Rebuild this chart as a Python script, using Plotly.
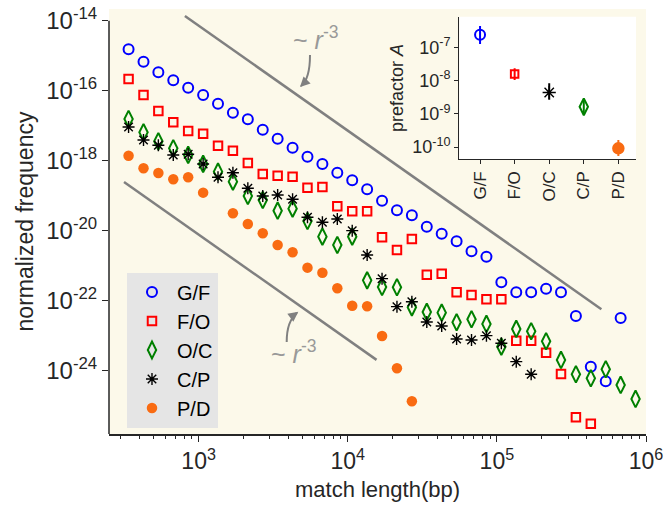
import numpy as np
import plotly.graph_objects as go

# ---------------- data ----------------
length_bins = [339, 427, 537, 676, 851, 1072, 1349, 1698, 2138, 2692, 3388, 4266,
               5370, 6761, 8511, 10715, 13490, 16982, 21380, 26915, 33884, 42658,
               53703, 67608, 85114, 107152, 134896, 169824, 213796, 269153, 338844,
               426580, 537032, 676083, 851138]

gf_log10 = [-14.817, -15.171, -15.474, -15.703, -15.914, -16.123, -16.371, -16.629, -16.817,
            -17.114, -17.371, -17.629, -17.886, -18.094, -18.343, -18.560, -18.817, -19.143,
            -19.417, -19.560, -19.886, -20.086, -20.303, -20.589, -20.743, -21.474, -21.760,
            -21.760, -21.657, -21.760, -22.437, -23.886, -24.303, -22.494]
fo_log10 = [-15.666, -16.123, -16.580, -16.903, -17.151, -17.229, -17.571, -17.714, -18.066,
            -18.380, -18.429, -18.457, -18.771, -18.751, -19.303, -19.446, -19.446, -20.189,
            -20.551, -20.237, -21.257, -21.229, -21.760, -21.837, -21.960, -21.960, -23.143,
            -23.143, -23.486, -24.094, -25.331, -25.514]
oc_log10 = [-16.809, -17.189, -17.446, -17.646, -17.837, -18.094, -18.314, -18.600, -19.009,
            -19.123, -19.429, -19.371, -19.723, -20.171, -20.409, -20.171, -21.420, -21.609,
            -21.617, -22.189, -22.323, -22.343, -22.617, -22.531, -22.666, -23.314, -22.809,
            -22.874, -23.160, -23.694, -24.103, -24.217, -23.960, -24.409, -24.809]
cp_log10 = [-17.037, -17.409, -17.560, -17.837, -17.817, -18.094, -18.474, -18.343, -18.789,
            -19.009, -18.980, -19.103, -19.617, -19.760, -19.666, -20.000, -20.694, -21.371,
            -22.171, -22.029, -22.609, -22.723, -23.094, -23.123, -23.000, -23.217, -23.743,
            -24.103]
pd_log10 = [-17.857, -18.217, -18.351, -18.531, -18.474, -18.914, None, -19.503, -19.809,
            -20.074, -20.409, -20.617, -21.057, -21.200, -21.646, -22.143, -22.160, -23.009,
            -23.931, -24.874]

# ~ r^-3 guide lines: log10 prefactor and x extent
guide_log10A = [-5.142, -11.112]
guide_x = [[809, 502000], [316, 15600]]

# inset
pairs = ["G/F", "F/O", "O/C", "C/P", "P/D"]
prefactor_log10 = [-6.62, -7.80, -8.36, -8.79, -10.04]
prefactor_hi_log10 = [-6.36, -7.63, -8.08, -8.59, -9.79]
prefactor_lo_log10 = [-6.90, -7.98, -8.58, -8.99, -10.27]

x_ticks = [1e3, 1e4, 1e5, 1e6]
x_ticktext = ["10<sup>3</sup>", "10<sup>4</sup>", "10<sup>5</sup>", "10<sup>6</sup>"]
y_ticks = [1e-14, 1e-16, 1e-18, 1e-20, 1e-22, 1e-24]
y_ticktext = ["10<sup>-14</sup>", "10<sup>-16</sup>", "10<sup>-18</sup>", "10<sup>-20</sup>",
              "10<sup>-22</sup>", "10<sup>-24</sup>"]
in_y_ticks = [1e-7, 1e-8, 1e-9, 1e-10]
in_y_ticktext = ["10<sup>-7</sup>", "10<sup>-8</sup>", "10<sup>-9</sup>", "10<sup>-10</sup>"]

# ---------------- style ----------------
W, H = 665, 509
ML, MR, MT, MB = 109, 19, 9, 75
XR = [2.399, 6.0]
YR = [-25.81, -13.666]
FONT = "Liberation Sans, Arial, sans-serif"
TXT = "#262626"
BLUE, RED, GREEN, BLACK, ORANGE = "#0000ff", "#ff0000", "#008000", "#000000", "#f96b12"
GRAY = "#808080"
BG = "#fcf9ea"


def to_vals(lst):
    return [None if v is None else 10 ** v for v in lst]


def px2paper(px, py):
    return (px - ML) / (W - ML - MR), (H - MB - py) / (H - MT - MB)


fig = go.Figure()

series = [
    ("G/F", gf_log10, dict(symbol="circle-open", size=10, color=BLUE, line=dict(width=2, color=BLUE))),
    ("F/O", fo_log10, dict(symbol="square-open", size=8.5, color=RED, line=dict(width=2, color=RED))),
    ("O/C", oc_log10, dict(symbol="diamond-tall-open", size=12, color=GREEN, line=dict(width=2, color=GREEN))),
    ("C/P", cp_log10, dict(symbol="asterisk-open", size=10, color=BLACK, line=dict(width=1.4, color=BLACK))),
    ("P/D", pd_log10, dict(symbol="circle", size=10.5, color=ORANGE, line=dict(width=0))),
]

# guide lines first
for la, xs in zip(guide_log10A, guide_x):
    xs = np.array(xs, dtype=float)
    fig.add_trace(go.Scatter(x=xs, y=10 ** la * xs ** -3.0, mode="lines",
                             line=dict(color=GRAY, width=2.5), showlegend=False,
                             hoverinfo="skip"))

for name, vals, mk in series:
    fig.add_trace(go.Scatter(x=length_bins[:len(vals)], y=to_vals(vals), mode="markers",
                             name=name, marker=mk, cliponaxis=False))

# inset
in_colors = [BLUE, RED, BLACK, GREEN, ORANGE]
in_symbols = ["circle-open", "square-open", "asterisk-open", "diamond-tall-open", "circle"]
in_sizes = [10, 7.5, 11, 12, 10.5]
for i, p in enumerate(pairs):
    c = 10 ** prefactor_log10[i]
    up = 10 ** prefactor_hi_log10[i] - c
    dn = c - 10 ** prefactor_lo_log10[i]
    fig.add_trace(go.Scatter(
        x=[p], y=[c], mode="markers", xaxis="x2", yaxis="y2", showlegend=False,
        marker=dict(symbol=in_symbols[i], size=in_sizes[i], color=in_colors[i],
                    line=dict(width=2 if in_symbols[i] != "asterisk-open" else 1.4,
                              color=in_colors[i])),
        error_y=dict(type="data", symmetric=False, array=[up], arrayminus=[dn],
                     color=in_colors[i], thickness=2, width=0)))

# inset domain in paper coords
ix0, iy0 = px2paper(459.3, 159.3)
ix1, iy1 = px2paper(636, 16.7)

fig.update_layout(
    width=W, height=H, margin=dict(l=ML, r=MR, t=MT, b=MB, autoexpand=False),
    paper_bgcolor="white", plot_bgcolor="rgba(0,0,0,0)",
    font=dict(family=FONT, color=TXT, size=21),
    xaxis=dict(type="log", range=XR, tickvals=x_ticks, ticktext=x_ticktext, automargin=False,
               ticks="outside", ticklen=6, tickwidth=1.3, tickcolor=TXT,
               showline=True, linecolor=TXT, linewidth=1.5, showgrid=False, zeroline=False,
               minor=dict(tickvals=[300, 400, 500, 600, 700, 800, 900,
                                    2000, 3000, 4000, 5000, 6000, 7000, 8000, 9000,
                                    20000, 30000, 40000, 50000, 60000, 70000, 80000, 90000,
                                    200000, 300000, 400000, 500000, 600000, 700000, 800000, 900000],
                          ticks="outside", ticklen=3.5, tickwidth=1.1, tickcolor=TXT),
               tickfont=dict(size=23, color=TXT),
               title=dict(text="match length(bp)", font=dict(size=22, color=TXT), standoff=8)),
    yaxis=dict(type="log", range=YR, tickvals=y_ticks, ticktext=y_ticktext, automargin=False,
               ticks="outside", ticklen=6, tickwidth=1.3, tickcolor=TXT,
               showline=False, showgrid=False, zeroline=False,
               tickfont=dict(size=24, color=TXT),
               title=dict(text="normalized frequency", font=dict(size=23, color=TXT), standoff=6)),
    xaxis2=dict(domain=[ix0, ix1], anchor="y2", type="category", range=[-0.6, 4.51],
                automargin=False,
                ticks="outside", ticklen=4, tickwidth=1.2, tickcolor=TXT, tickangle=-90,
                showline=True, linecolor=TXT, linewidth=1.3, showgrid=False, zeroline=False,
                tickfont=dict(size=17, color=TXT)),
    yaxis2=dict(domain=[iy0, iy1], anchor="x2", type="log", range=[-10.37, -6.078],
                tickvals=in_y_ticks, ticktext=in_y_ticktext, automargin=False,
                ticks="outside", ticklen=4, tickwidth=1.2, tickcolor=TXT,
                showline=True, linecolor=TXT, linewidth=1.3, showgrid=False, zeroline=False,
                tickfont=dict(size=18, color=TXT),
                title=dict(text="prefactor <i>A</i>", font=dict(size=18, color=TXT), standoff=4)),
    legend=dict(x=0.0335, y=0.38, xanchor="left", yanchor="top", bgcolor="#e5e5e5",
                borderwidth=0, font=dict(size=20, color="#000000"), tracegroupgap=0,
                itemwidth=40),
    showlegend=True,
)

shapes = []
# main plot background (yellow) and white inset background
shapes.append(dict(type="rect", xref="paper", yref="paper", x0=0, x1=1, y0=0, y1=1,
                   fillcolor=BG, line=dict(width=0), layer="below"))
shapes.append(dict(type="rect", xref="paper", yref="paper", x0=ix0, x1=ix1, y0=iy0, y1=iy1,
                   fillcolor="white", line=dict(width=0), layer="below"))
# trimmed left spine of main axes (from 1e-14 down)
frac_top = (-14 - YR[0]) / (YR[1] - YR[0])
shapes.append(dict(type="line", xref="paper", yref="paper", x0=0, x1=0, y0=0, y1=frac_top,
                   line=dict(color=TXT, width=1.5)))


def curve(p0, c, p1):
    a = px2paper(*p0)
    b = px2paper(*c)
    d = px2paper(*p1)
    return f"M {a[0]:.5f},{a[1]:.5f} Q {b[0]:.5f},{b[1]:.5f} {d[0]:.5f},{d[1]:.5f}"


shapes.append(dict(type="path", xref="paper", yref="paper",
                   path=curve((310, 55), (310, 79), (301, 86)), line=dict(color=GRAY, width=2)))
shapes.append(dict(type="path", xref="paper", yref="paper",
                   path=curve((286.7, 342), (286.7, 321), (297, 313)), line=dict(color=GRAY, width=2)))
fig.update_layout(shapes=shapes)

annotations = []
for (tx, ty) in [(315, 38), (293, 352)]:
    ax_, ay_ = px2paper(tx, ty)
    annotations.append(dict(xref="paper", yref="paper", x=ax_, y=ay_, showarrow=False,
                            xanchor="center", yanchor="middle",
                            text="~ <i>r</i><sup>-3</sup>", font=dict(size=25, color="#999999")))
for (hx, hy, dx, dy) in [(300, 87, 8, -8), (298.3, 311.7, -8, 6)]:
    hxp, hyp = px2paper(hx, hy)
    annotations.append(dict(xref="paper", yref="paper", x=hxp, y=hyp, ax=dx, ay=dy,
                            axref="pixel", ayref="pixel", text="", showarrow=True,
                            arrowhead=2, arrowsize=1, arrowwidth=2, arrowcolor=GRAY))
fig.update_layout(annotations=annotations)

fig.write_html("out.html")
